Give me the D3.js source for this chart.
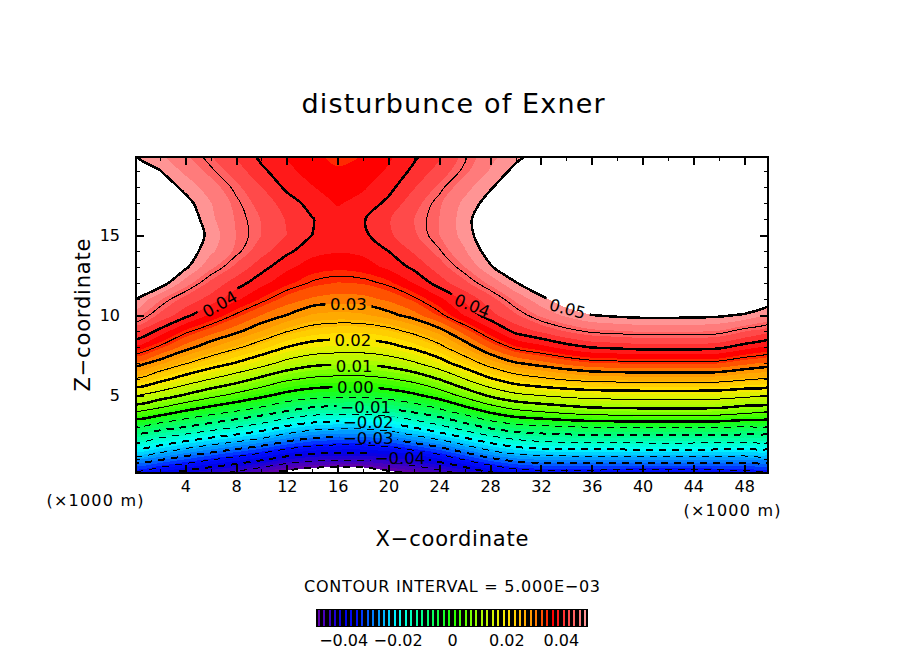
<!DOCTYPE html>
<html>
<head>
<meta charset="utf-8">
<script src="https://cdn.jsdelivr.net/npm/d3@7"></script>
<style>
html, body { margin: 0; padding: 0; background: #fff; }
svg { display: block; }
text { font-family: "DejaVu Sans", sans-serif; fill: #000; }
</style>
</head>
<body>
<svg id="chart" width="904" height="654"></svg>
<script>
// grid positions (km), one value per 2 km in x and 1 km in z
var xGrid = d3.range(26).map(function(i) { return i * 2; });
var zGrid = d3.range(21);

// disturbance of Exner (z = 0 .. 20)
var row00 = [-.038,-.0402,-.0432,-.0455,-.0476,-.0503,-.0533,-.0553,-.056,-.0555,-.0525,-.0505,-.0482,-.0455,-.042,-.0392,-.0382,-.0383,-.0385,-.0386,-.0387,-.0387,-.0387,-.0386,-.0383,-.038];
var row01 = [-.0272,-.0293,-.0318,-.0343,-.0366,-.0391,-.0418,-.0434,-.044,-.044,-.043,-.041,-.0381,-.0343,-.0307,-.0284,-.0274,-.0272,-.0272,-.0272,-.0272,-.0272,-.0272,-.0272,-.0272,-.0272];
var row02 = [-.0158,-.0184,-.0213,-.0237,-.0259,-.0281,-.031,-.033,-.0338,-.0338,-.0325,-.03,-.0272,-.0237,-.02,-.0173,-.016,-.0155,-.0152,-.0151,-.015,-.015,-.015,-.0151,-.0155,-.0158];
var row03 = [-.0059,-.0078,-.01,-.0125,-.0148,-.0174,-.0207,-.023,-.0238,-.0238,-.0224,-.0196,-.0164,-.0125,-.009,-.007,-.006,-.0053,-.0048,-.0046,-.0044,-.0044,-.0044,-.0046,-.0053,-.0059];
var row04 = [.0057,.003,-.0002,-.0027,-.0049,-.0071,-.01,-.0121,-.0128,-.0128,-.0115,-.009,-.0062,-.0027,.0011,.0041,.0055,.0069,.008,.0083,.0085,.0085,.0085,.0083,.0069,.0057];
var row05 = [.0156,.0129,.0097,.0066,.0039,.0012,-.0014,-.003,-.0036,-.0036,-.0026,-.0007,.0022,.0066,.011,.014,.0154,.0164,.0171,.0173,.0175,.0175,.0175,.0173,.0164,.0156];
var row06 = [.0245,.0215,.0181,.015,.0122,.0089,.0058,.0042,.0036,.0036,.0046,.0066,.0102,.015,.0195,.0228,.0243,.0256,.0265,.0268,.027,.027,.027,.0268,.0256,.0245];
var row07 = [.0315,.0287,.0254,.0225,.0198,.0169,.0136,.0114,.0107,.0107,.012,.0145,.0181,.0225,.0268,.0298,.0313,.0328,.0339,.0342,.0345,.0345,.0345,.0342,.0328,.0315];
var row08 = [.0375,.0346,.0312,.0283,.0257,.023,.02,.0182,.0175,.0175,.0187,.0209,.024,.0283,.0326,.0358,.0373,.039,.0402,.0406,.041,.041,.041,.0406,.039,.0375];
var row09 = [.0426,.0394,.0357,.0331,.0307,.028,.0252,.0234,.0227,.0227,.0238,.026,.029,.0331,.0372,.0407,.0424,.0442,.0455,.0459,.0463,.0463,.0463,.0459,.0442,.0426];
var row10 = [.047,.0436,.0408,.0377,.0347,.032,.03,.0278,.0273,.0277,.0292,.0312,.0343,.0382,.0413,.0437,.0465,.0485,.05,.0505,.0508,.0508,.0507,.0505,.0497,.048];
var row11 = [.0503,.0463,.0433,.0413,.0385,.0358,.0332,.0317,.0311,.0313,.0325,.0345,.0375,.0405,.0432,.0465,.0493,.0518,.0535,.055,.056,.057,.057,.0565,.054,.0515];
var row12 = [.054,.0515,.047,.0435,.041,.0387,.0365,.0347,.0339,.0342,.0355,.0381,.041,.0435,.0465,.0498,.0525,.055,.0575,.0585,.059,.059,.0585,.0575,.056,.054];
var row13 = [.056,.053,.0505,.0465,.0435,.0408,.0385,.037,.0365,.037,.0385,.0405,.043,.046,.0497,.0525,.0545,.0565,.0585,.059,.0595,.0595,.059,.058,.057,.056];
var row14 = [.057,.055,.0517,.0485,.0456,.0428,.0405,.0387,.0382,.0385,.04,.0423,.0448,.0478,.0512,.0535,.0555,.0575,.059,.0595,.06,.06,.0595,.0585,.0575,.057];
var row15 = [.0575,.0555,.0525,.0492,.046,.044,.042,.04,.0392,.0395,.0416,.0437,.046,.0488,.0522,.054,.056,.058,.059,.06,.06,.06,.06,.059,.058,.0575];
var row16 = [.057,.055,.052,.0485,.0458,.0439,.0418,.0401,.0387,.0398,.0418,.044,.046,.049,.0525,.054,.056,.058,.059,.06,.06,.06,.06,.059,.058,.057];
var row17 = [.056,.0538,.0509,.0481,.0454,.0432,.041,.0392,.0378,.0387,.0405,.0432,.0457,.0485,.051,.053,.055,.057,.0585,.0595,.06,.06,.0595,.0585,.0575,.056];
var row18 = [.054,.0518,.0493,.0469,.0445,.042,.0395,.0381,.037,.0377,.0393,.0418,.0444,.0472,.0497,.052,.054,.056,.058,.059,.059,.059,.0585,.0575,.056,.054];
var row19 = [.052,.0501,.0475,.0454,.043,.0405,.0385,.0372,.0362,.0368,.0383,.0405,.0428,.0455,.0482,.0507,.0525,.054,.056,.0575,.058,.058,.0575,.056,.054,.052];
var row20 = [.05,.0483,.0463,.0441,.0417,.0393,.0378,.0363,.0355,.036,.0375,.0395,.0415,.0445,.0472,.0492,.051,.053,.055,.0565,.057,.0565,.056,.0545,.0525,.0505];
var exner = [row00,row01,row02,row03,row04,row05,row06,row07,row08,row09,row10,row11,row12,row13,row14,row15,row16,row17,row18,row19,row20];

// colour bands every 0.002, contour lines every 0.005
var fillLevels = d3.range(51).map(function(i) { return (i - 25) * 0.002; });
var lineLevels = d3.range(21).map(function(i) { return (i - 10) * 0.005; });

var xMajor = [4,8,12,16,20,24,28,32,36,40,44,48];
var xMinor = [2,6,10,14,18,22,26,30,34,38,42,46];
var zMajor = [5,10,15];
var zMinor = [1,2,3,4,6,7,8,9,11,12,13,14,16,17,18,19];
var barTicks = [-0.04,-0.02,0,0.02,0.04];

// contour labels: text, x (km), z (km), rotation
var labelText = ["0.04","0.03","0.02","0.01","0.00","\u22120.01","\u22120.02","\u22120.03","\u22120.04","0.04","0.05"];
var labelX = [6.7,16.85,17.2,17.3,17.4,18.2,18.4,18.4,20.9,26.6,34.1];
var labelZ = [10.7,10.7,8.45,6.8,5.5,4.25,3.3,2.3,1.1,10.6,10.4];
var labelRot = [-30,0,0,0,0,0,0,0,0,22,15];

var colorStops = [-.05,-.04,-.035,-.03,-.02,-.01,0,.01,.02,.03,.037,.05];
var colorValues = ["#6a00a8","#0000e8","#0010ff","#0070ff","#00ffff","#00ff80","#20ff00","#a0ff00","#ffe800","#ff9000","#ff0000","#ffa0a0"];
var color = d3.scaleLinear().domain(colorStops).range(colorValues);

var svg = d3.select("#chart");

var x = d3.scaleLinear().domain([0.125, 49.875]).range([136, 768]);
var z = d3.scaleLinear().domain([0.125, 19.875]).range([473, 157]);

var flat = [];
exner.forEach(function(row) { row.forEach(function(v) { flat.push(v); }); });

// grid coordinate -> pixel, d3.contours puts a value at index + 0.5
var gridX = d3.scaleLinear().domain([0.5, xGrid.length - 0.5]).range([x(xGrid[0]), x(xGrid[xGrid.length - 1])]);
var gridZ = d3.scaleLinear().domain([0.5, zGrid.length - 0.5]).range([z(zGrid[0]), z(zGrid[zGrid.length - 1])]);

var ringLine = d3.line()
    .x(function(p) { return gridX(p[0]); })
    .y(function(p) { return gridZ(p[1]); })
    .curve(d3.curveCatmullRomClosed.alpha(0.5));

function contourPath(level) {
    var geo = d3.contours().size([xGrid.length, zGrid.length]).contour(flat, level);
    var d = "";
    geo.coordinates.forEach(function(poly) {
        poly.forEach(function(ring) {
            d += ringLine(ring.slice(0, -1));
        });
    });
    return d;
}

var defs = svg.append("defs");
defs.append("clipPath").attr("id", "frame").append("rect")
    .attr("x", x.range()[0]).attr("y", z.range()[1])
    .attr("width", x.range()[1] - x.range()[0])
    .attr("height", z.range()[0] - z.range()[1]);

// holes in the contour lines where the labels sit
var mask = defs.append("mask").attr("id", "labelGaps").attr("maskUnits", "userSpaceOnUse")
    .attr("x", 0).attr("y", 0).attr("width", 904).attr("height", 654);
mask.append("rect").attr("width", 904).attr("height", 654).attr("fill", "#fff");
labelText.forEach(function(t, i) {
    var w = t.length > 4 ? 58 : 46;
    mask.append("rect")
        .attr("x", -w / 2).attr("y", -6).attr("width", w).attr("height", 12)
        .attr("fill", "#000")
        .attr("transform", "translate(" + x(labelX[i]) + "," + z(labelZ[i]) + ") rotate(" + labelRot[i] + ")");
});

var plot = svg.append("g").attr("clip-path", "url(#frame)");

// colour bands, painted low to high; the last one (above 0.05) is white
plot.selectAll("path.band")
    .data(fillLevels)
    .enter().append("path")
    .attr("class", "band")
    .attr("d", contourPath)
    .attr("fill-rule", "evenodd")
    .attr("shape-rendering", "crispEdges")
    .attr("fill", function(v, i) { return i === 50 ? "#fff" : color(v + 0.001); });

// contour lines: every 0.01 thick, negatives dashed and a bit lighter
plot.append("g").attr("mask", "url(#labelGaps)")
    .selectAll("path.line")
    .data(lineLevels)
    .enter().append("path")
    .attr("class", "line")
    .attr("d", contourPath)
    .attr("fill", "none")
    .attr("stroke", "#000")
    .attr("stroke-width", function(v, i) { return i % 2 === 0 ? (v < -1e-6 ? 2 : 2.5) : 1; })
    .attr("stroke-dasharray", function(v) { return v < -1e-6 ? "7,6" : null; })
    .attr("shape-rendering", "crispEdges");

// contour labels
svg.selectAll("text.clabel")
    .data(labelText)
    .enter().append("text")
    .attr("class", "clabel")
    .attr("text-anchor", "middle")
    .attr("dy", "0.37em")
    .attr("font-size", 16.5)
    .attr("transform", function(t, i) { return "translate(" + x(labelX[i]) + "," + z(labelZ[i]) + ") rotate(" + labelRot[i] + ")"; })
    .text(function(t) { return t; });

// axes with inward ticks on all four sides
function styleAxis(g, width) {
    g.select(".domain").remove();
    g.selectAll("line").attr("stroke", "#000").attr("stroke-width", width).attr("shape-rendering", "crispEdges");
    g.selectAll("text").attr("font-size", 16);
}
function addAxis(axis, tx, ty, ticks, size, width, showText, padding) {
    var a = axis.tickValues(ticks).tickSize(-size).tickPadding(padding || 8);
    if (!showText) a.tickFormat("");
    svg.append("g").attr("transform", "translate(" + tx + "," + ty + ")").call(a).call(styleAxis, width);
}
var left = x.range()[0], right = x.range()[1], top_ = z.range()[1], bottom = z.range()[0];
addAxis(d3.axisBottom(x), 0, bottom, xMajor, 8, 2, true);
addAxis(d3.axisBottom(x), 0, bottom, xMinor, 4, 1, false);
addAxis(d3.axisTop(x), 0, top_, xMajor, 8, 2, false);
addAxis(d3.axisTop(x), 0, top_, xMinor, 4, 1, false);
addAxis(d3.axisLeft(z), left, 0, zMajor, 8, 2, true, 16);
addAxis(d3.axisLeft(z), left, 0, zMinor, 4, 1, false);
addAxis(d3.axisRight(z), right, 0, zMajor, 8, 2, false);
addAxis(d3.axisRight(z), right, 0, zMinor, 4, 1, false);

svg.append("rect")
    .attr("x", left).attr("y", top_)
    .attr("width", right - left).attr("height", bottom - top_)
    .attr("fill", "none").attr("stroke", "#000").attr("stroke-width", 2)
    .attr("shape-rendering", "crispEdges");

// titles
function label(t, px, py, size, len, rot) {
    svg.append("text")
        .attr("text-anchor", "middle")
        .attr("font-size", size)
        .attr("textLength", len)
        .attr("lengthAdjust", "spacing")
        .attr("transform", "translate(" + px + "," + py + ")" + (rot ? " rotate(" + rot + ")" : ""))
        .text(t);
}
label("disturbunce of Exner", 453, 113, 27, 303);
label("X\u2212coordinate", 452, 546, 21, 153);
label("Z\u2212coordinate", 90, 315, 21, 153, -90);
label("(\u00d71000 m)", 95, 506, 16, 97);
label("(\u00d71000 m)", 732, 516, 16, 97);
label("CONTOUR INTERVAL = 5.000E\u221203", 452, 592, 16, 296);

// colour bar: black strip with a thin coloured stripe per band
var barX = d3.scaleLinear().domain([-0.05, 0.05]).range([316, 588]);
svg.append("rect")
    .attr("x", 316).attr("y", 609).attr("width", 272).attr("height", 18)
    .attr("fill", "#000").attr("shape-rendering", "crispEdges");
svg.selectAll("rect.stripe")
    .data(fillLevels.slice(0, 50))
    .enter().append("rect")
    .attr("class", "stripe")
    .attr("x", function(v) { return barX(v + 0.001) - 1; })
    .attr("y", 610).attr("width", 2).attr("height", 16)
    .attr("fill", function(v) { return color(v + 0.001); })
    .attr("shape-rendering", "crispEdges");

var barAxis = d3.axisBottom(barX).tickValues(barTicks).tickSize(0).tickPadding(8)
    .tickFormat(function(v) { return v === 0 ? "0" : (v < 0 ? "\u2212" : "") + Math.abs(v).toFixed(2); });
svg.append("g").attr("transform", "translate(0,627)").call(barAxis).call(styleAxis, 1);
</script>
</body>
</html>
